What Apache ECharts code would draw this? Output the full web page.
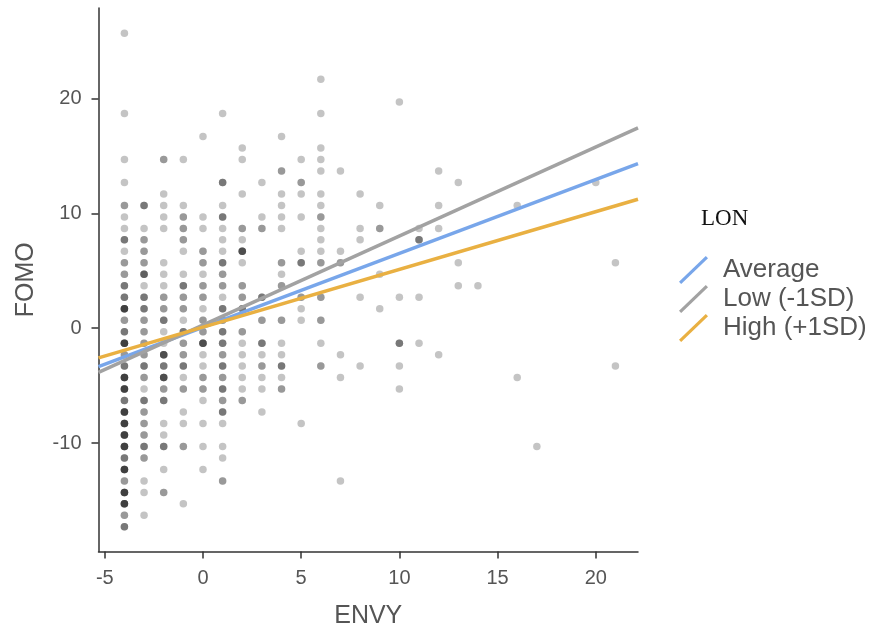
<!DOCTYPE html>
<html>
<head>
<meta charset="utf-8">
<title>ENVY vs FOMO by LON</title>
<script src="https://cdn.jsdelivr.net/npm/echarts@6/dist/echarts.min.js"></script>
<style>
  html, body { margin: 0; padding: 0; background: #fff; }
  #chart { width: 871px; height: 630px; }
</style>
</head>
<body>
<div id="chart"></div>
<script>
// ENVY scores that have observations
const envyScores = [-4, -3, -2, -1, 0, 1, 2, 3, 4, 5, 6, 7, 8, 9, 10, 11, 12, 13, 14, 16, 17, 20, 21];

// FOMO values for each ENVY score: [fomo, number of overlapping points]
const fomoByEnvy = [
  [[25.7,1],[18.7,1],[14.7,1],[12.7,1],[10.7,2],[9.7,1],[8.7,1],[7.7,3],[6.7,1],[5.7,2],[4.7,2],[3.7,3],[2.7,3],[1.7,6],[0.7,2],[-0.3,3],[-1.3,6],[-2.3,2],[-3.3,3],[-4.3,6],[-5.3,6],[-6.3,3],[-7.3,6],[-8.3,6],[-9.3,6],[-10.3,6],[-11.3,3],[-12.3,6],[-13.3,2],[-14.3,6],[-15.3,6],[-16.3,2],[-17.3,3]],
  [[10.7,3],[8.7,1],[7.7,2],[6.7,2],[5.7,2],[4.7,4],[3.7,1],[2.7,3],[1.7,3],[0.7,2],[-0.3,2],[-1.3,2],[-2.3,2],[-3.3,3],[-4.3,2],[-5.3,1],[-6.3,3],[-7.3,2],[-8.3,2],[-9.3,2],[-10.3,3],[-11.3,2],[-13.3,1],[-14.3,1],[-16.3,1]],
  [[14.7,2],[11.7,1],[10.7,1],[9.7,1],[8.7,1],[5.7,1],[4.7,1],[3.7,1],[2.7,2],[1.7,2],[0.7,3],[-0.3,1],[-1.3,1],[-2.3,5],[-3.3,3],[-4.3,5],[-5.3,2],[-6.3,3],[-8.3,1],[-9.3,1],[-10.3,3],[-12.3,1],[-14.3,2]],
  [[14.7,1],[10.7,1],[9.7,2],[8.7,2],[7.7,2],[6.7,1],[4.7,1],[3.7,3],[2.7,2],[1.7,2],[0.7,1],[-0.3,3],[-1.3,2],[-2.3,2],[-3.3,3],[-4.3,1],[-5.3,2],[-7.3,1],[-8.3,1],[-10.3,2],[-15.3,1]],
  [[16.7,1],[9.7,1],[8.7,1],[6.7,2],[5.7,2],[4.7,1],[3.7,2],[2.7,2],[1.7,1],[0.7,2],[-0.3,2],[-1.3,5],[-2.3,1],[-3.3,1],[-4.3,2],[-5.3,2],[-6.3,1],[-8.3,1],[-10.3,1],[-12.3,1]],
  [[18.7,1],[12.7,3],[10.7,1],[9.7,3],[8.7,1],[7.7,1],[6.7,1],[5.7,3],[4.7,2],[3.7,2],[2.7,1],[1.7,3],[0.7,2],[-0.3,3],[-1.3,3],[-2.3,2],[-3.3,3],[-4.3,2],[-5.3,3],[-6.3,2],[-7.3,3],[-8.3,1],[-10.3,1],[-11.3,1],[-13.3,2]],
  [[15.7,1],[14.7,1],[11.7,1],[8.7,2],[7.7,1],[6.7,5],[5.7,1],[3.7,2],[2.7,2],[1.7,3],[-0.3,2],[-1.3,1],[-2.3,1],[-3.3,1],[-4.3,1],[-5.3,1],[-6.3,2]],
  [[12.7,1],[9.7,1],[8.7,2],[2.7,3],[0.7,2],[-1.3,3],[-2.3,1],[-3.3,2],[-4.3,1],[-5.3,1],[-7.3,1]],
  [[16.7,1],[13.7,2],[11.7,1],[10.7,1],[9.7,1],[8.7,1],[5.7,2],[4.7,1],[3.7,2],[0.7,2],[-1.3,1],[-2.3,1],[-3.3,3],[-4.3,1],[-5.3,2]],
  [[14.7,1],[12.7,2],[11.7,1],[9.7,1],[6.7,1],[5.7,3],[2.7,2],[1.7,1],[0.7,1],[-8.3,1]],
  [[21.7,1],[18.7,1],[15.7,1],[14.7,1],[13.7,1],[11.7,1],[10.7,1],[9.7,2],[8.7,1],[7.7,1],[6.7,1],[5.7,2],[2.7,2],[0.7,2],[-1.3,1],[-3.3,2]],
  [[13.7,1],[6.7,1],[5.7,2],[-2.3,1],[-4.3,1],[-13.3,1]],
  [[11.7,1],[8.7,1],[7.7,1],[2.7,1],[-3.3,1]],
  [[10.7,1],[8.7,2],[4.7,1],[1.7,1]],
  [[19.7,1],[2.7,1],[-1.3,3],[-3.3,1],[-5.3,1]],
  [[8.7,1],[7.7,3],[2.7,1],[-1.3,1]],
  [[13.7,1],[10.7,1],[8.7,1],[-2.3,1]],
  [[12.7,1],[5.7,1],[3.7,1]],
  [[3.7,1]],
  [[10.7,1],[-4.3,1]],
  [[-10.3,1]],
  [[12.7,1]],
  [[5.7,1],[-3.3,1]]
];

// simple slopes at the two ends of the ENVY axis
const lineEnvy = [-5.32, 22.15];
const fomoAverage = [-3.35, 14.34];
const fomoLow = [-3.85, 17.46];
const fomoHigh = [-2.58, 11.24];

const xTicks = [-5, 0, 5, 10, 15, 20];
const yTicks = [-10, 0, 10, 20];

const lineNames = ['Average', 'Low (-1SD)', 'High (+1SD)'];
const lineColors = ['#78a6ea', '#a2a2a2', '#e9b042'];

// overlapping points are drawn on top of each other so they get darker
const points = [];
envyScores.forEach((envy, i) => {
  fomoByEnvy[i].forEach(([fomo, n]) => {
    for (let k = 0; k < n; k++) points.push([envy, fomo]);
  });
});

const chart = echarts.init(document.getElementById('chart'));

const axisText = { color: '#555', fontSize: 20, fontFamily: 'Liberation Sans' };
const nameText = { color: '#555', fontSize: 25, fontFamily: 'Liberation Sans' };

const option = {
  animation: false,
  title: {
    text: 'LON',
    left: 701,
    top: 207,
    padding: 0,
    textStyle: { fontFamily: 'Liberation Serif', fontWeight: 'normal', fontSize: 23, color: '#111' }
  },
  legend: {
    data: lineNames,
    orient: 'vertical',
    left: 679,
    top: 256,
    padding: 0,
    itemWidth: 29,
    itemHeight: 28,
    itemGap: 1,
    icon: 'path://M0,25.8 L26.8,0 L29,2.2 L2.2,28 Z',
    textStyle: { color: '#555', fontSize: 26, fontFamily: 'Liberation Sans', padding: [0, 0, 0, 10] }
  },
  // keep the plot box fixed, labels may sit close to the edge
  grid: { left: 98.5, right: 233, top: 8, bottom: 78.5, outerBoundsMode: 'none' },
  xAxis: {
    type: 'value',
    min: lineEnvy[0],
    max: lineEnvy[1],
    name: 'ENVY',
    nameLocation: 'middle',
    nameGap: 52,
    nameTextStyle: nameText,
    axisLine: { onZero: false, lineStyle: { color: '#333', width: 1.5 } },
    axisTick: { show: true, length: 7, customValues: xTicks, lineStyle: { color: '#333', width: 1.5 } },
    axisLabel: { customValues: xTicks, margin: 17, ...axisText },
    splitLine: { show: false }
  },
  yAxis: {
    type: 'value',
    min: -19.45,
    max: 27.9,
    name: 'FOMO',
    nameLocation: 'middle',
    nameGap: 60,
    nameTextStyle: nameText,
    axisLine: { show: true, onZero: false, lineStyle: { color: '#333', width: 1.5 } },
    axisTick: { show: true, length: 7, customValues: yTicks, lineStyle: { color: '#333', width: 1.5 } },
    axisLabel: { customValues: yTicks, margin: 17, ...axisText },
    splitLine: { show: false }
  },
  series: [
    {
      type: 'scatter',
      data: points,
      symbolSize: 7.5,
      silent: true,
      itemStyle: { color: 'rgba(26,26,26,0.32)' }
    },
    {
      name: lineNames[0],
      type: 'line',
      data: lineEnvy.map((x, i) => [x, fomoAverage[i]]),
      showSymbol: false,
      color: lineColors[0],
      lineStyle: { width: 3.5 }
    },
    {
      name: lineNames[1],
      type: 'line',
      data: lineEnvy.map((x, i) => [x, fomoLow[i]]),
      showSymbol: false,
      color: lineColors[1],
      lineStyle: { width: 3.5 }
    },
    {
      name: lineNames[2],
      type: 'line',
      data: lineEnvy.map((x, i) => [x, fomoHigh[i]]),
      showSymbol: false,
      color: lineColors[2],
      lineStyle: { width: 3.5 }
    }
  ]
};

chart.setOption(option);
</script>
</body>
</html>
